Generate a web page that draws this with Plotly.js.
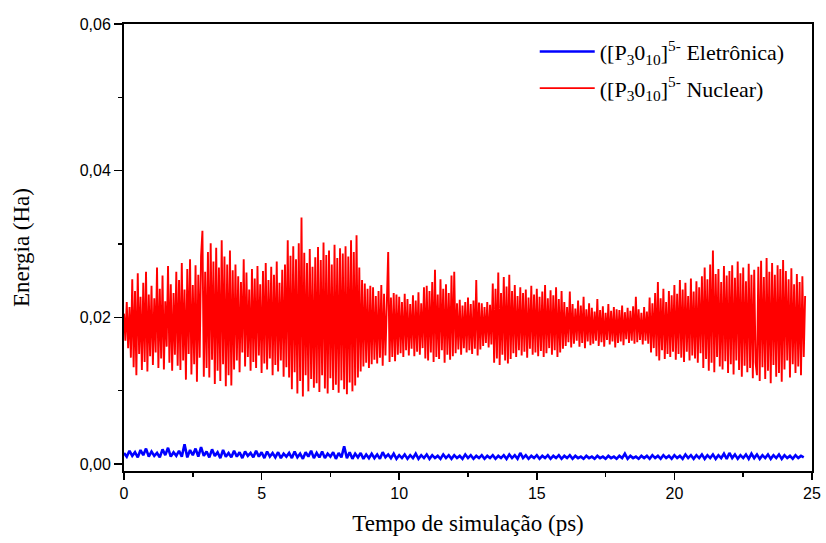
<!DOCTYPE html>
<html>
<head>
<meta charset="utf-8">
<script src="https://cdn.plot.ly/plotly-3.0.1.min.js"></script>
<style>html,body{margin:0;padding:0;background:#fff;}#chart{width:826px;height:543px;}</style>
</head>
<body>
<div id="chart"></div>
<script>
// Time axis (ps): start and sampling step of each series
const nuclearStart = 0, nuclearStep = 0.05;
const eletronicaStart = 0, eletronicaStep = 0.1;

// Nuclear energy (Ha), red trace
const nuclear = [
0.0205,0.0168,0.0221,0.0158,0.0214,0.0145,0.0252,0.0132,0.0236,0.0121,0.0260,0.0150,0.0228,0.0128,0.0247,0.0139,0.0262,0.0126,0.0231,0.0147,
0.0243,0.0135,0.0226,0.0152,0.0268,0.0131,0.0239,0.0144,0.0257,0.0129,0.0222,0.0160,0.0270,0.0138,0.0245,0.0127,0.0233,0.0149,0.0262,0.0134,
0.0251,0.0128,0.0274,0.0141,0.0238,0.0115,0.0266,0.0150,0.0279,0.0122,0.0244,0.0136,0.0271,0.0112,0.0258,0.0145,0.0283,0.0318,0.0119,0.0262,
0.0131,0.0289,0.0118,0.0301,0.0142,0.0276,0.0109,0.0295,0.0127,0.0268,0.0113,0.0305,0.0136,0.0283,0.0106,0.0272,0.0121,0.0291,0.0107,0.0264,
0.0129,0.0272,0.0141,0.0256,0.0125,0.0248,0.0152,0.0279,0.0133,0.0261,0.0146,0.0238,0.0127,0.0266,0.0139,0.0253,0.0131,0.0270,0.0148,0.0245,
0.0124,0.0263,0.0137,0.0274,0.0129,0.0251,0.0144,0.0269,0.0121,0.0258,0.0135,0.0276,0.0126,0.0247,0.0141,0.0265,0.0119,0.0272,0.0132,0.0305,
0.0118,0.0284,0.0102,0.0297,0.0125,0.0279,0.0096,0.0301,0.0113,0.0336,0.0092,0.0288,0.0121,0.0274,0.0099,0.0293,0.0116,0.0269,0.0104,0.0282,
0.0110,0.0296,0.0098,0.0278,0.0121,0.0302,0.0103,0.0285,0.0096,0.0291,0.0117,0.0272,0.0101,0.0299,0.0108,0.0281,0.0097,0.0294,0.0114,0.0287,
0.0102,0.0297,0.0095,0.0283,0.0111,0.0305,0.0099,0.0289,0.0107,0.0312,0.0118,0.0268,0.0126,0.0251,0.0133,0.0246,0.0138,0.0239,0.0131,0.0243,
0.0136,0.0241,0.0142,0.0229,0.0137,0.0236,0.0145,0.0244,0.0134,0.0232,0.0148,0.0238,0.0289,0.0139,0.0227,0.0146,0.0233,0.0140,0.0231,0.0149,
0.0228,0.0151,0.0221,0.0146,0.0232,0.0155,0.0225,0.0148,0.0218,0.0157,0.0230,0.0147,0.0223,0.0153,0.0234,0.0149,0.0219,0.0158,0.0241,0.0144,
0.0243,0.0141,0.0236,0.0152,0.0248,0.0139,0.0265,0.0146,0.0231,0.0143,0.0252,0.0155,0.0239,0.0138,0.0245,0.0149,0.0233,0.0142,0.0257,0.0147,
0.0262,0.0151,0.0219,0.0156,0.0224,0.0149,0.0216,0.0158,0.0221,0.0152,0.0227,0.0155,0.0218,0.0150,0.0223,0.0157,0.0251,0.0148,0.0220,0.0156,
0.0219,0.0161,0.0214,0.0165,0.0221,0.0159,0.0217,0.0163,0.0246,0.0138,0.0239,0.0144,0.0261,0.0135,0.0233,0.0149,0.0255,0.0141,0.0242,0.0137,
0.0258,0.0143,0.0236,0.0151,0.0244,0.0146,0.0229,0.0155,0.0241,0.0148,0.0233,0.0153,0.0238,0.0145,0.0227,0.0157,0.0243,0.0149,0.0231,0.0152,
0.0239,0.0147,0.0228,0.0154,0.0235,0.0146,0.0244,0.0151,0.0226,0.0158,0.0237,0.0149,0.0230,0.0155,0.0241,0.0146,0.0225,0.0152,0.0236,0.0157,
0.0221,0.0161,0.0214,0.0166,0.0235,0.0159,0.0218,0.0164,0.0212,0.0168,0.0223,0.0160,0.0216,0.0165,0.0228,0.0158,0.0211,0.0167,0.0219,0.0162,
0.0213,0.0164,0.0208,0.0168,0.0225,0.0161,0.0210,0.0166,0.0215,0.0160,0.0206,0.0169,0.0218,0.0163,0.0209,0.0167,0.0214,0.0159,0.0211,0.0165,
0.0210,0.0167,0.0216,0.0162,0.0207,0.0170,0.0213,0.0165,0.0209,0.0168,0.0215,0.0164,0.0228,0.0166,0.0211,0.0169,0.0206,0.0163,0.0214,0.0168,
0.0208,0.0164,0.0227,0.0152,0.0219,0.0158,0.0233,0.0147,0.0248,0.0141,0.0226,0.0155,0.0239,0.0143,0.0221,0.0150,0.0236,0.0146,0.0230,0.0153,
0.0244,0.0142,0.0232,0.0150,0.0251,0.0145,0.0238,0.0139,0.0247,0.0153,0.0229,0.0141,0.0253,0.0148,0.0235,0.0144,0.0249,0.0138,0.0241,0.0151,
0.0256,0.0131,0.0268,0.0143,0.0252,0.0127,0.0272,0.0138,0.0291,0.0125,0.0259,0.0146,0.0266,0.0133,0.0248,0.0129,0.0270,0.0140,0.0257,0.0124,
0.0263,0.0136,0.0271,0.0122,0.0254,0.0141,0.0276,0.0128,0.0260,0.0119,0.0268,0.0134,0.0249,0.0125,0.0273,0.0131,0.0258,0.0117,0.0265,0.0138,
0.0121,0.0269,0.0113,0.0277,0.0132,0.0255,0.0116,0.0281,0.0127,0.0262,0.0110,0.0274,0.0135,0.0258,0.0119,0.0271,0.0124,0.0266,0.0112,0.0278,
0.0129,0.0263,0.0141,0.0252,0.0118,0.0267,0.0136,0.0245,0.0124,0.0259,0.0133,0.0248,0.0121,0.0256,0.0146,0.0229
];

// Electronic energy (Ha), blue trace
const eletronica = [
0.0015,0.0010,0.0018,0.0011,0.0016,0.0009,0.0019,0.0012,0.0021,0.0010,
0.0017,0.0011,0.0015,0.0009,0.0020,0.0012,0.0022,0.0010,0.0016,0.0011,
0.0018,0.0010,0.0027,0.0009,0.0019,0.0012,0.0021,0.0010,0.0023,0.0011,
0.0017,0.0009,0.0020,0.0011,0.0016,0.0008,0.0019,0.0010,0.0015,0.0009,
0.0018,0.0010,0.0016,0.0008,0.0017,0.0011,0.0015,0.0009,0.0018,0.0010,
0.0016,0.0008,0.0017,0.0010,0.0015,0.0009,0.0016,0.0008,0.0014,0.0010,
0.0015,0.0008,0.0017,0.0009,0.0014,0.0007,0.0016,0.0010,0.0018,0.0008,
0.0015,0.0009,0.0017,0.0008,0.0014,0.0010,0.0016,0.0007,0.0015,0.0009,
0.0024,0.0008,0.0016,0.0007,0.0014,0.0009,0.0015,0.0007,0.0013,0.0008,
0.0014,0.0008,0.0013,0.0007,0.0016,0.0009,0.0013,0.0008,0.0014,0.0007,
0.0012,0.0008,0.0013,0.0007,0.0012,0.0008,0.0014,0.0007,0.0012,0.0008,
0.0013,0.0007,0.0012,0.0008,0.0011,0.0007,0.0013,0.0008,0.0012,0.0007,
0.0012,0.0008,0.0011,0.0007,0.0013,0.0008,0.0012,0.0007,0.0011,0.0008,
0.0012,0.0007,0.0011,0.0008,0.0012,0.0007,0.0011,0.0008,0.0012,0.0007,
0.0013,0.0008,0.0012,0.0007,0.0015,0.0008,0.0012,0.0007,0.0011,0.0008,
0.0012,0.0007,0.0011,0.0008,0.0012,0.0007,0.0011,0.0008,0.0012,0.0007,
0.0011,0.0008,0.0012,0.0007,0.0011,0.0008,0.0010,0.0007,0.0011,0.0008,
0.0010,0.0007,0.0011,0.0008,0.0010,0.0007,0.0011,0.0008,0.0010,0.0007,
0.0011,0.0008,0.0014,0.0007,0.0011,0.0008,0.0010,0.0007,0.0011,0.0008,
0.0011,0.0007,0.0012,0.0008,0.0011,0.0007,0.0012,0.0008,0.0011,0.0007,
0.0012,0.0008,0.0011,0.0007,0.0013,0.0008,0.0012,0.0007,0.0012,0.0008,
0.0013,0.0007,0.0012,0.0008,0.0013,0.0007,0.0012,0.0008,0.0014,0.0007,
0.0015,0.0008,0.0013,0.0007,0.0012,0.0008,0.0013,0.0007,0.0014,0.0008,
0.0013,0.0007,0.0012,0.0008,0.0013,0.0007,0.0012,0.0008,0.0013,0.0007,
0.0012,0.0008,0.0011,0.0007,0.0012,0.0008,0.0011,0.0009
];

const seriesNames = [
  '([P<sub>3</sub>0<sub>10</sub>]<sup>5-</sup> Eletrônica)',
  '([P<sub>3</sub>0<sub>10</sub>]<sup>5-</sup> Nuclear)'
];
const yTickVals = [0, 0.02, 0.04, 0.06];
const xTickVals = [0, 5, 10, 15, 20, 25];

const serif = 'Liberation Serif, Times New Roman, serif';
const sans = 'Liberation Sans, Arial, sans-serif';

const data = [
  {
    type: 'scatter', mode: 'lines', name: seriesNames[0], legendgroup: 'a',
    x0: eletronicaStart, dx: eletronicaStep, y: eletronica,
    line: {color: '#0000ff', width: 2.6}
  },
  {
    type: 'scatter', mode: 'lines', name: seriesNames[1], legendgroup: 'b',
    x0: nuclearStart, dx: nuclearStep, y: nuclear,
    line: {color: '#ff0000', width: 1.9}
  }
];

const layout = {
  width: 826, height: 543,
  margin: {l: 124, r: 14, t: 24, b: 72},
  paper_bgcolor: '#ffffff', plot_bgcolor: '#ffffff',
  separators: ',.',
  showlegend: true,
  legend: {
    x: 0.597, y: 0.985, xanchor: 'left', yanchor: 'top',
    bgcolor: 'rgba(0,0,0,0)', borderwidth: 0,
    font: {family: serif, size: 22, color: '#000'},
    itemwidth: 55,
    tracegroupgap: 5
  },
  xaxis: {
    range: [0, 25], tickvals: xTickVals,
    ticks: 'outside', ticklen: 7, tickwidth: 1.5, tickcolor: '#000',
    minor: {dtick: 2.5, tick0: 0, ticks: 'outside', ticklen: 4, tickwidth: 1.5, tickcolor: '#000', showgrid: false},
    showline: true, linewidth: 2, linecolor: '#000', mirror: true,
    showgrid: false, zeroline: false,
    tickfont: {family: sans, size: 16, color: '#000'},
    title: {text: 'Tempo de simulação (ps)', font: {family: serif, size: 23, color: '#000'}, standoff: 14}
  },
  yaxis: {
    range: [-0.00096, 0.06], tickvals: yTickVals, tickformat: '.2f',
    ticks: 'outside', ticklen: 8, tickwidth: 1.5, tickcolor: '#000',
    minor: {dtick: 0.01, tick0: 0, ticks: 'outside', ticklen: 4, tickwidth: 1.5, tickcolor: '#000', showgrid: false},
    showline: true, linewidth: 2, linecolor: '#000', mirror: true,
    showgrid: false, zeroline: false,
    tickfont: {family: sans, size: 16, color: '#000'},
    title: {text: 'Energia (Ha)', font: {family: serif, size: 23, color: '#000'}, standoff: 44}
  }
};

Plotly.newPlot('chart', data, layout, {staticPlot: true, displayModeBar: false});
</script>
</body>
</html>
